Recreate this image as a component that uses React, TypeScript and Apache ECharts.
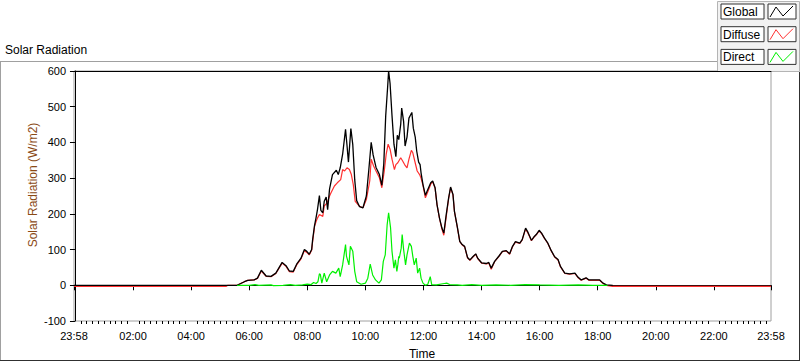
import React, { useEffect, useRef } from "react";
import * as echarts from "echarts";

// Minutes since 00:00 (axis runs 23:58 of previous day -> 23:58)
const AXIS_MIN = -2;
const AXIS_MAX = 1438;
const majorTicks = [-2, 120, 240, 360, 480, 600, 720, 840, 960, 1080, 1200, 1320, 1438];

const globalTimes = [-2, 335, 350, 357, 370, 377, 385, 395, 405, 415, 428, 436, 443, 451, 458, 467, 474, 479, 484, 489, 491, 495, 498, 501, 505, 508, 512, 515, 519, 522, 526, 532, 540, 544, 548, 553, 559, 562, 565, 570, 574, 578, 582, 588, 595, 602, 607, 612, 616, 622, 629, 634, 638, 642, 646, 648, 651, 655, 659, 663, 666, 669, 673, 675, 679, 682, 686, 690, 693, 696, 699, 703, 706, 710, 713, 715, 719, 724, 729, 735, 739, 744, 748, 753, 758, 762, 767, 772, 776, 781, 784, 790, 795, 800, 805, 811, 816, 822, 828, 832, 840, 850, 855, 860, 867, 876, 883, 891, 898, 904, 910, 919, 924, 931, 936, 943, 948, 953, 959, 964, 970, 977, 984, 991, 998, 1003, 1012, 1022, 1033, 1039, 1046, 1056, 1062, 1084, 1091, 1098, 1111];
const globalValues = [0, 0, 10, 14, 15, 20, 42, 26, 25, 34, 64, 55, 40, 39, 59, 76, 100, 95, 87, 100, 128, 168, 189, 212, 251, 210, 203, 235, 247, 212, 270, 310, 322, 310, 329, 367, 437, 392, 345, 439, 393, 295, 237, 220, 217, 250, 322, 400, 365, 330, 310, 280, 340, 475, 556, 600, 565, 475, 395, 360, 420, 408, 451, 496, 458, 390, 415, 468, 476, 484, 440, 415, 376, 345, 338, 315, 282, 252, 268, 287, 292, 273, 226, 189, 161, 146, 198, 245, 275, 254, 207, 163, 123, 114, 109, 78, 71, 80, 88, 76, 63, 61, 64, 48, 67, 82, 95, 97, 88, 109, 122, 118, 128, 160, 148, 126, 135, 142, 154, 146, 132, 118, 97, 80, 72, 53, 34, 32, 34, 23, 15, 21, 15, 15, 6, 1, 0];

const diffuseTimes = [-2, 312, 316, 335, 350, 357, 370, 377, 385, 395, 405, 415, 428, 436, 443, 451, 458, 467, 474, 479, 484, 489, 491, 495, 498, 501, 505, 508, 512, 515, 519, 522, 526, 529, 536, 542, 549, 553, 557, 562, 567, 571, 575, 579, 588, 595, 602, 609, 612, 617, 622, 629, 634, 639, 643, 647, 651, 655, 660, 663, 667, 673, 677, 681, 686, 690, 695, 698, 702, 707, 712, 715, 719, 724, 729, 735, 739, 744, 748, 753, 758, 762, 767, 772, 776, 781, 784, 790, 795, 800, 805, 811, 816, 822, 828, 832, 840, 850, 855, 860, 867, 876, 883, 891, 898, 904, 910, 919, 924, 931, 936, 943, 948, 953, 959, 964, 970, 977, 984, 991, 998, 1003, 1012, 1022, 1033, 1039, 1046, 1056, 1062, 1084, 1091, 1098, 1111, 1438];
const diffuseValues = [-3, -3, 0, 0, 10, 14, 15, 19, 40, 25, 24, 33, 62, 53, 38, 37, 57, 74, 97, 92, 85, 98, 122, 165, 178, 188, 198, 196, 193, 222, 228, 235, 250, 259, 278, 287, 296, 324, 320, 329, 324, 310, 282, 235, 221, 217, 240, 292, 353, 334, 320, 301, 273, 320, 367, 395, 381, 353, 324, 338, 343, 357, 348, 338, 329, 353, 378, 371, 348, 320, 310, 300, 280, 245, 262, 283, 290, 272, 225, 188, 158, 140, 192, 243, 273, 253, 206, 162, 122, 113, 108, 77, 70, 79, 87, 75, 62, 60, 62, 45, 66, 81, 94, 96, 87, 108, 121, 117, 127, 158, 146, 125, 134, 141, 152, 145, 131, 117, 96, 79, 71, 52, 33, 31, 33, 22, 14, 20, 14, 14, 5, 0, -3, -3];

const directTimes = [335, 360, 372, 380, 405, 410, 430, 445, 455, 470, 480, 488, 493, 498, 502, 505, 507, 510, 515, 520, 526, 532, 539, 545, 548, 553, 559, 561, 566, 569, 574, 578, 582, 591, 600, 605, 610, 615, 621, 628, 633, 637, 641, 645, 648, 652, 655, 659, 662, 665, 667, 669, 670, 674, 676, 679, 683, 686, 691, 695, 698, 701, 705, 708, 712, 715, 719, 724, 729, 734, 737, 747, 763, 768, 774, 790, 800, 820, 840, 870, 900, 930, 960, 1000, 1040, 1070, 1100];
const directValues = [0, 0, 2, 0, 1, -1, 0, 2, 0, 1, 3, 2, 8, 5, 10, 32, 30, 6, 34, 10, 29, 39, 34, 48, 24, 57, 114, 81, 57, 109, 95, 39, 10, 3, 6, 20, 59, 29, 15, 6, 15, 67, 85, 170, 203, 161, 95, 48, 71, 39, 57, 81, 76, 104, 142, 100, 57, 85, 118, 109, 81, 57, 76, 34, 48, 20, 6, 0, 3, 24, 2, 1, 5, 6, 2, 1, 0, 2, 0, 1, 0, 2, 1, 0, 1, 0, 0];

const seriesNames = ["Global", "Diffuse", "Direct"];
const seriesColors = ["#000000", "#ff3030", "#00f000"];

const FONT = "Liberation Sans, Arial, sans-serif";

function fmt(v: number): string {
  if (v < 0 || v >= 1438) return "23:58";
  const h = Math.floor(v / 60);
  const m = Math.round(v % 60);
  return `${String(h).padStart(2, "0")}:${String(m).padStart(2, "0")}`;
}

function zip(t: number[], v: number[]) {
  return t.map((x, i) => [x, v[i]]);
}

export default function App() {
  const ref = useRef<HTMLDivElement>(null);
  useEffect(() => {
    if (!ref.current) return;
    const chart = echarts.init(ref.current, undefined, { renderer: "svg" });
    const minor: number[] = [];
    for (let m = 12; m < 1438; m += 12) if (m % 120 !== 0) minor.push(m);

    const legendItems: any[] = [];
    seriesNames.forEach((name, i) => {
      const y0 = 4 + i * 22.7;
      legendItems.push(
        { type: "rect", shape: { x: 721, y: y0, width: 43, height: 15 }, style: { fill: "#ffffff", stroke: "#333333", lineWidth: 1 } },
        { type: "text", style: { text: name, x: 723, y: y0 + 8, font: `12px ${FONT}`, fill: "#000", verticalAlign: "middle", align: "left" } },
        { type: "rect", shape: { x: 768, y: y0, width: 28, height: 15 }, style: { fill: "#ffffff", stroke: "#333333", lineWidth: 1 } },
        { type: "polyline", shape: { points: [[770, y0 + 13], [776, y0 + 3], [783, y0 + 12], [793, y0 + 2]] }, style: { stroke: seriesColors[i], lineWidth: 1, fill: "none" } }
      );
    });

    chart.setOption({
      animation: false,
      backgroundColor: "#ffffff",
      grid: { left: 74, top: 71, right: 29, bottom: 40, show: true, borderColor: "#a0a0a0", borderWidth: 1, backgroundColor: "#ffffff" },
      xAxis: [
        {
          type: "value", min: AXIS_MIN, max: AXIS_MAX, position: "bottom",
          axisLine: { show: true, lineStyle: { color: "#000", width: 1 } },
          axisTick: { show: true, length: 5, customValues: majorTicks, lineStyle: { color: "#000" } },
          axisLabel: { show: true, customValues: majorTicks, formatter: fmt, color: "#000", fontFamily: FONT, fontSize: 11, margin: 9 },
          splitLine: { show: false },
        },
        {
          type: "value", min: AXIS_MIN, max: AXIS_MAX, position: "bottom",
          axisLine: { show: false },
          axisTick: { show: true, length: 3, customValues: minor, lineStyle: { color: "#000" } },
          axisLabel: { show: false },
          splitLine: { show: false },
        },
        {
          type: "value", min: AXIS_MIN, max: AXIS_MAX, position: "top",
          axisLine: { show: true, lineStyle: { color: "#000", width: 1 } },
          axisTick: { show: false },
          axisLabel: { show: false },
          splitLine: { show: false },
        },
      ],
      yAxis: {
        type: "value", min: -100, max: 600, interval: 100,
        axisLine: { show: true, lineStyle: { color: "#000", width: 1 } },
        axisTick: { show: true, length: 5, lineStyle: { color: "#000" } },
        axisLabel: { color: "#000", fontFamily: FONT, fontSize: 11, margin: 8 },
        splitLine: { show: false },
      },
      series: [
        { name: "Diffuse", type: "line", xAxisIndex: 0, data: zip(diffuseTimes, diffuseValues), showSymbol: false, symbol: "none", lineStyle: { color: seriesColors[1], width: 1.2 }, z: 2 },
        { name: "Global", type: "line", xAxisIndex: 0, data: zip(globalTimes, globalValues), showSymbol: false, symbol: "none", lineStyle: { color: seriesColors[0], width: 1.3 }, z: 3 },
        { name: "Direct", type: "line", xAxisIndex: 0, data: zip(directTimes, directValues), showSymbol: false, symbol: "none", lineStyle: { color: seriesColors[2], width: 1.2 }, z: 4 },
      ],
      graphic: [
        { type: "line", shape: { x1: 0, y1: 61.5, x2: 717, y2: 61.5 }, style: { stroke: "#a0a0a0", lineWidth: 1 } },
        { type: "line", shape: { x1: 0.5, y1: 61, x2: 0.5, y2: 361 }, style: { stroke: "#a0a0a0", lineWidth: 1 } },
        { type: "line", shape: { x1: 0, y1: 360.5, x2: 800, y2: 360.5 }, style: { stroke: "#303030", lineWidth: 1 } },
        { type: "line", shape: { x1: 799.5, y1: 72, x2: 799.5, y2: 361 }, style: { stroke: "#303030", lineWidth: 1 } },
        { type: "text", style: { text: "Solar Radiation", x: 5, y: 50, font: `12px ${FONT}`, fill: "#000", verticalAlign: "middle" } },
        { type: "text", style: { text: "Time", x: 422, y: 354, font: `12px ${FONT}`, fill: "#000", align: "center", verticalAlign: "middle" } },
        { type: "text", x: 33, y: 185, rotation: Math.PI / 2, style: { text: "Solar Radiation (W/m2)", x: 0, y: 0, font: `12px ${FONT}`, fill: "#8a4a16", align: "center", verticalAlign: "middle" } },
        { type: "rect", shape: { x: 717.5, y: 1.5, width: 82, height: 70 }, style: { fill: "#f2f2f2", stroke: "#b4b4b4", lineWidth: 1 } },
        ...legendItems,
      ],
    });
    return () => chart.dispose();
  }, []);
  return <div ref={ref} style={{ position: "fixed", left: 0, top: 0, width: 800, height: 361 }} />;
}
